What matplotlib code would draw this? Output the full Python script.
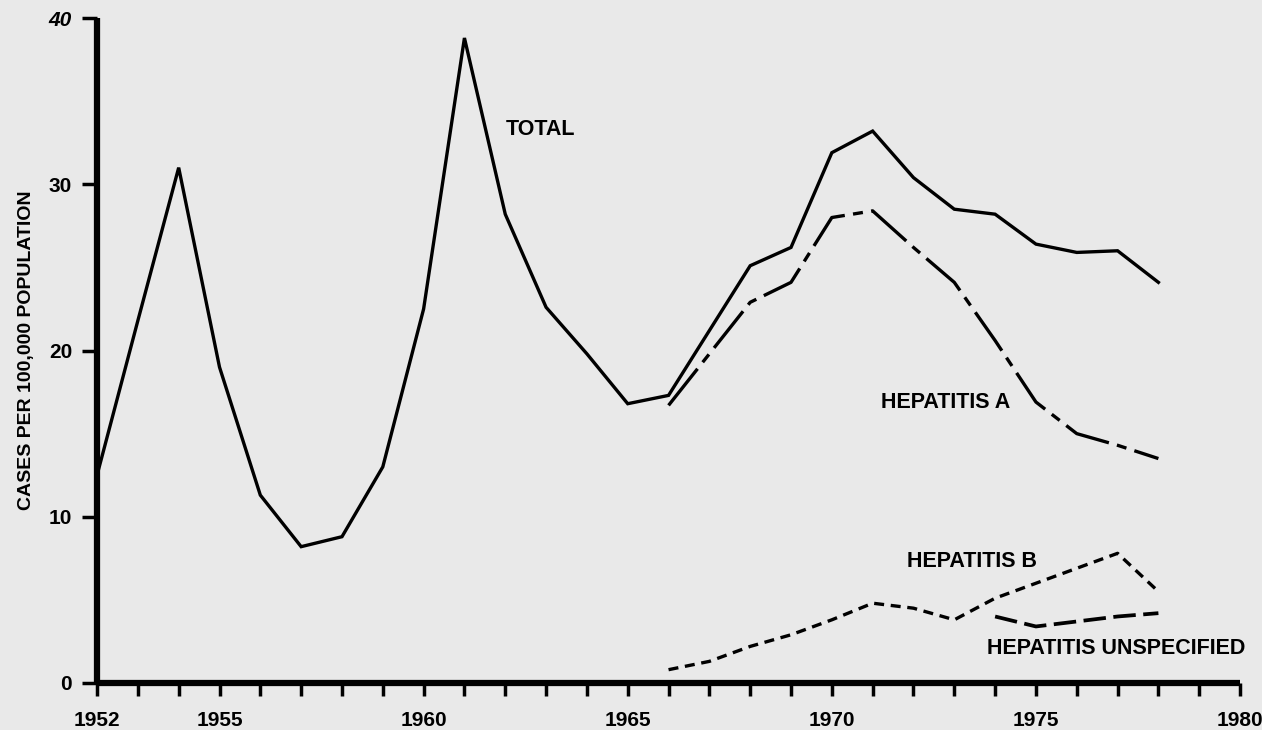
import matplotlib
matplotlib.use("Agg")
import matplotlib.pyplot as plt

years_total = list(range(1952, 1979))
total = [12.5, 21.8, 31.0, 19.0, 11.3, 8.2, 8.8, 13.0, 22.5, 38.8, 28.2, 22.6, 19.8,
         16.8, 17.3, 21.2, 25.1, 26.2, 31.9, 33.2, 30.4, 28.5, 28.2, 26.4, 25.9, 26.0, 24.1]

years_a = list(range(1966, 1979))
hep_a = [16.7, 19.8, 22.9, 24.1, 28.0, 28.4, 26.2, 24.1, 20.6, 16.9, 15.0, 14.3, 13.5]

years_b = list(range(1966, 1979))
hep_b = [0.8, 1.3, 2.2, 2.9, 3.8, 4.8, 4.5, 3.8, 5.1, 6.0, 6.9, 7.8, 5.5]

years_u = list(range(1974, 1979))
hep_u = [4.0, 3.4, 3.7, 4.0, 4.2]

xtick_labels = [1952, 1955, 1960, 1965, 1970, 1975, 1980]
yticks = [0, 10, 20, 30, 40]

plt.rcParams['font.family'] = ['Liberation Sans', 'DejaVu Sans']
bg = '#e9e9e9'
fig = plt.figure(figsize=(12.62, 7.30), dpi=100, facecolor=bg)
ax = fig.add_axes([0.0769, 0.0644, 0.9057, 0.9109])
ax.set_facecolor(bg)

ax.plot(years_total, total, color='black', lw=2.4, solid_joinstyle='miter')
ax.plot(years_a, hep_a, color='black', lw=2.4, dashes=(14, 2.5, 3, 2.5))
ax.plot(years_b, hep_b, color='black', lw=2.4, dashes=(3, 2))
ax.plot(years_u, hep_u, color='black', lw=2.7, dashes=(6, 2))

ax.set_xlim(1952, 1980)
ax.set_ylim(0, 40)
for s in ['top', 'right']:
    ax.spines[s].set_visible(False)
for s in ['left', 'bottom']:
    ax.spines[s].set_linewidth(4.5)
    ax.spines[s].set_capstyle('butt')

ax.set_xticks(list(range(1952, 1981)))
ax.set_xticklabels([str(y) if y in xtick_labels else '' for y in range(1952, 1981)],
                   fontsize=15, fontweight='bold')
ax.set_yticks(yticks)
ax.set_yticklabels([str(v) for v in yticks], fontsize=15, fontweight='bold')
ax.get_yticklabels()[-1].set_style('italic')
ax.tick_params(axis='x', direction='out', length=9, width=2.5, pad=11)
ax.tick_params(axis='y', direction='out', length=11, width=2.5, pad=7)

ax.set_ylabel('CASES PER 100,000 POPULATION', fontsize=14, fontweight='bold')
ax.yaxis.set_label_coords(-0.054, 0.5)

lab_fs = 15.5
ax.text(1962.0, 33.3, 'TOTAL', fontsize=lab_fs, fontweight='bold', va='center', ha='left')
ax.text(1971.2, 16.9, 'HEPATITIS A', fontsize=lab_fs, fontweight='bold', va='center', ha='left')
ax.text(1971.85, 7.3, 'HEPATITIS B', fontsize=lab_fs, fontweight='bold', va='center', ha='left')
ax.text(1973.8, 2.1, 'HEPATITIS UNSPECIFIED', fontsize=lab_fs, fontweight='bold', va='center', ha='left')

for sp in ax.spines.values():
    sp.set_clip_on(False)

fig.savefig('out.png', dpi=100, facecolor=bg)
